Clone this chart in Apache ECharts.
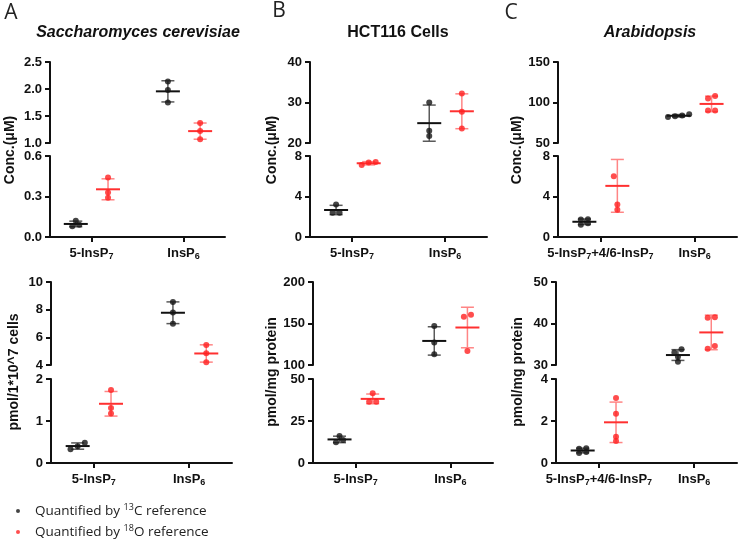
<!DOCTYPE html>
<html>
<head>
<meta charset="utf-8">
<script src="https://cdn.jsdelivr.net/npm/echarts@6/dist/echarts.min.js"></script>
<style>
html, body { margin: 0; padding: 0; background: #fff; }
#chart { width: 739px; height: 543px; }
</style>
</head>
<body>
<div id="chart"></div>
<script>
// category labels (rich text, {s|..} = subscript)
const catLabelsAB = ['5-InsP{s|7}', 'InsP{s|6}'];
const catLabelsC = ['5-InsP{s|7}+4/6-InsP{s|7}', 'InsP{s|6}'];

// replicate values, [category][replicate]
const yeastConc13C = [[0.12, 0.09, 0.08], [2.14, 1.98, 1.75]];
const yeastConc18O = [[0.44, 0.33, 0.29], [1.37, 1.22, 1.07]];
const hctConc13C = [[3.2, 2.4, 2.4], [30.0, 23.0, 21.7]];
const hctConc18O = [[7.1, 7.4, 7.35], [32.2, 27.7, 23.6]];
const araConc13C = [[1.75, 1.72, 1.2, 1.35], [85.5, 84, 82, 83]];
const araConc18O = [[6.0, 3.2, 2.7, 8.3], [108, 105, 90, 90]];

const yeastAmt13C = [[0.48, 0.33, 0.4], [8.55, 7.8, 6.98]];
const yeastAmt18O = [[1.74, 1.31, 1.18], [5.45, 4.85, 4.2]];
const hctAmt13C = [[16.1, 12.3, 13.7], [147, 127, 113]];
const hctAmt18O = [[41.5, 36.5, 36.5], [160.5, 158, 117]];
const araAmt13C = [[0.7, 0.68, 0.48, 0.52], [33.8, 33.0, 32.0, 30.8]];
const araAmt18O = [[3.1, 2.35, 1.25, 1.05], [41.5, 41.4, 34.6, 33.9]];

// broken y axes: [lower segment, upper segment], each [min, max, interval]
const yeastConcTicks = [[0, 0.6, 0.3], [1, 2.5, 0.5]];
const hctConcTicks = [[0, 8, 4], [20, 40, 10]];
const araConcTicks = [[0, 8, 4], [50, 150, 50]];
const yeastAmtTicks = [[0, 2, 1], [4, 10, 2]];
const hctAmtTicks = [[0, 50, 25], [100, 200, 50]];
const araAmtTicks = [[0, 4, 2], [30, 50, 10]];

const BLACK = '#151515', RED = '#ff2020';
const FONT = "'Liberation Sans', Arial, sans-serif";
const UIFONT = "'Open Sans', 'Noto Sans', sans-serif";

// box: [left, width, upperTop, upperHeight, lowerTop, lowerHeight]
const panels = [
  { c13: yeastConc13C, o18: yeastConc18O, ticks: yeastConcTicks, cats: catLabelsAB, dec: 1, box: [50, 175, 62, 81, 156, 81] },
  { c13: hctConc13C, o18: hctConc18O, ticks: hctConcTicks, cats: catLabelsAB, dec: 0, box: [310, 177, 62, 81, 156, 81] },
  { c13: araConc13C, o18: araConc18O, ticks: araConcTicks, cats: catLabelsC, dec: 0, box: [558, 179, 62, 81, 156, 81] },
  { c13: yeastAmt13C, o18: yeastAmt18O, ticks: yeastAmtTicks, cats: catLabelsAB, dec: 0, box: [51, 181, 282, 83, 379, 84] },
  { c13: hctAmt13C, o18: hctAmt18O, ticks: hctAmtTicks, cats: catLabelsAB, dec: 0, box: [313, 180, 282, 83, 379, 84] },
  { c13: araAmt13C, o18: araAmt18O, ticks: araAmtTicks, cats: catLabelsC, dec: 0, box: [556, 181, 282, 83, 379, 84] }
];

const mean = a => a.reduce((s, v) => s + v, 0) / a.length;
const sdev = a => {
  const m = mean(a);
  return Math.sqrt(a.reduce((s, v) => s + (v - m) * (v - m), 0) / (a.length - 1));
};

// spread overlapping points sideways like a scatter dot plot
function spread(vals, ticks) {
  const off = vals.map(() => 0);
  const span = v => { const s = v <= ticks[0][1] ? ticks[0] : ticks[1]; return s[1] - s[0]; };
  const idx = vals.map((v, i) => i).sort((a, b) => vals[a] - vals[b]);
  let group = [idx[0]];
  const flush = () => group.forEach((k, j) => { off[k] = (j - (group.length - 1) / 2) * 0.075; });
  for (let i = 1; i < idx.length; i++) {
    const a = vals[idx[i - 1]], b = vals[idx[i]];
    if (b - a < 0.04 * span(b)) group.push(idx[i]);
    else { flush(); group = [idx[i]]; }
  }
  flush();
  return off;
}

function errRender(barColor, meanColor) {
  return function (params, api) {
    const x = api.value(0), m = api.value(1), s = api.value(2);
    const pm = api.coord([x, m]), pt = api.coord([x, m + s]), pb = api.coord([x, m - s]);
    const ln = (x1, y1, x2, y2, c, w) => ({ type: 'line', shape: { x1, y1, x2, y2 }, style: { stroke: c, lineWidth: w } });
    return {
      type: 'group',
      children: [
        ln(pm[0], pt[1], pm[0], pb[1], barColor, 1.5),
        ln(pm[0] - 6.5, pt[1], pm[0] + 6.5, pt[1], barColor, 1.5),
        ln(pm[0] - 6.5, pb[1], pm[0] + 6.5, pb[1], barColor, 1.5),
        ln(pm[0] - 12, pm[1], pm[0] + 12, pm[1], meanColor, 2)
      ]
    };
  };
}

const grids = [], xAxes = [], yAxes = [], series = [];
const groups = [
  { key: 'c13', name: '13C', shift: -0.17, color: BLACK, bar: '#5a5a5a', meanC: '#111' },
  { key: 'o18', name: '18O', shift: 0.18, color: RED, bar: '#ff8585', meanC: '#ff3030' }
];

panels.forEach(p => {
  const b = p.box;
  [0, 1].forEach(seg => {
    const gi = grids.length;
    grids.push({ left: b[0], width: b[1], top: seg ? b[2] : b[4], height: seg ? b[3] : b[5] });
    xAxes.push({
      type: 'value', gridIndex: gi, min: 0.55, max: 2.45, show: seg === 0,
      splitLine: { show: false },
      axisLine: { lineStyle: { color: '#111', width: 2 } },
      axisTick: { customValues: [1, 2], length: 5, lineStyle: { color: '#111', width: 2 } },
      axisLabel: {
        customValues: [1, 2], margin: 8, color: '#111', fontWeight: 'bold', fontSize: 13, fontFamily: FONT,
        formatter: v => p.cats[Math.round(v) - 1],
        rich: { s: { fontSize: 9, fontWeight: 'bold', fontFamily: FONT, color: '#111', padding: [7, 0, 0, 0] } }
      }
    });
    const t = p.ticks[seg];
    yAxes.push({
      type: 'value', gridIndex: gi, min: t[0], max: t[1], interval: t[2],
      splitLine: { show: false },
      axisLine: { show: true, onZero: false, lineStyle: { color: '#111', width: 2 } },
      axisTick: { show: true, length: 5, lineStyle: { color: '#111', width: 2 } },
      axisLabel: {
        color: '#111', fontWeight: 'bold', fontSize: 13, fontFamily: FONT, margin: 8,
        formatter: v => v.toFixed(p.dec)
      }
    });
    groups.forEach(g => {
      const pts = [], bars = [];
      p[g.key].forEach((vals, c) => {
        const off = spread(vals, p.ticks);
        vals.forEach((v, i) => pts.push([c + 1 + g.shift + off[i], v]));
        bars.push([c + 1 + g.shift, mean(vals), sdev(vals)]);
      });
      series.push({
        type: 'scatter', name: g.name, xAxisIndex: gi, yAxisIndex: gi, clip: true, z: 3,
        symbol: 'circle', symbolSize: 6, itemStyle: { color: g.color }, data: pts, silent: true
      });
      series.push({
        type: 'custom', name: g.name + ' SD', xAxisIndex: gi, yAxisIndex: gi, clip: true, z: 2,
        renderItem: errRender(g.bar, g.meanC), data: bars, silent: true
      });
    });
  });
});

const txt = (x, y, text, o) => ({
  type: 'text', x, y, rotation: o.rot || 0,
  style: Object.assign({ text, textAlign: 'center', textVerticalAlign: 'middle', fill: '#111',
    fontFamily: FONT, fontWeight: 'bold', fontSize: 14 }, o.style || {})
});
const letter = { fontFamily: UIFONT, fontWeight: 'normal', fontSize: 21, fill: '#222' };

const graphic = [
  txt(11, 13, 'A', { style: letter }),
  txt(279, 11, 'B', { style: letter }),
  txt(511, 13, 'C', { style: letter }),
  txt(138, 33, 'Saccharomyces cerevisiae', { style: { fontSize: 16, fontStyle: 'italic' } }),
  txt(398, 33, 'HCT116 Cells', { style: { fontSize: 16 } }),
  txt(650, 33, 'Arabidopsis', { style: { fontSize: 16, fontStyle: 'italic' } }),
  txt(10, 150, 'Conc.(μM)', { rot: Math.PI / 2 }),
  txt(272, 150, 'Conc.(μM)', { rot: Math.PI / 2 }),
  txt(517, 150, 'Conc.(μM)', { rot: Math.PI / 2 }),
  txt(14, 372, 'pmol/1*10^7 cells', { rot: Math.PI / 2 }),
  txt(272, 372, 'pmol/mg protein', { rot: Math.PI / 2 }),
  txt(518, 372, 'pmol/mg protein', { rot: Math.PI / 2 })
];

const chart = echarts.init(document.getElementById('chart'));
chart.setOption({
  animation: false,
  grid: grids,
  xAxis: xAxes,
  yAxis: yAxes,
  series: series,
  graphic: graphic,
  legend: {
    data: ['13C', '18O'], orient: 'vertical', left: 16, top: 503, padding: 0, icon: 'circle',
    itemWidth: 4, itemHeight: 4, itemGap: 5, selectedMode: false,
    formatter: n => '{g|}Quantified by {sup|' + n.slice(0, 2) + '}' + n.slice(2) + ' reference',
    textStyle: {
      fontFamily: UIFONT, fontSize: 13.5, color: '#222', lineHeight: 16,
      rich: {
        g: { width: 10 },
        sup: { fontSize: 9, fontFamily: UIFONT, color: '#222', lineHeight: 16, verticalAlign: 'top' }
      }
    }
  }
});
</script>
</body>
</html>
